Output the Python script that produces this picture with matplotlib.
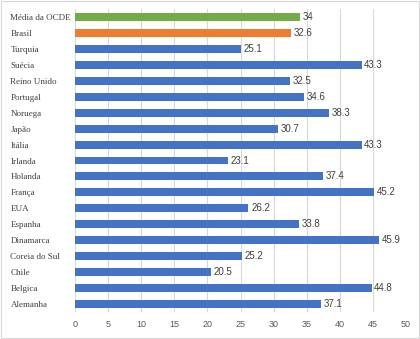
import matplotlib
matplotlib.use("Agg")
import matplotlib.pyplot as plt
from matplotlib.patches import Rectangle

categories = ["Alemanha", "Belgica", "Chile", "Coreia do Sul", "Dinamarca", "Espanha",
              "EUA", "França", "Holanda", "Irlanda", "Itália", "Japão", "Noruega",
              "Portugal", "Reino Unido", "Suécia", "Turquia", "Brasil", "Média da OCDE"]
values = [37.1, 44.8, 20.5, 25.2, 45.9, 33.8, 26.2, 45.2, 37.4, 23.1, 43.3, 30.7, 38.3,
          34.6, 32.5, 43.3, 25.1, 32.6, 34]
value_labels = ["37.1", "44.8", "20.5", "25.2", "45.9", "33.8", "26.2", "45.2", "37.4",
                "23.1", "43.3", "30.7", "38.3", "34.6", "32.5", "43.3", "25.1", "32.6", "34"]
colors = ["#4472C4"] * 17 + ["#ED7D31", "#70AD47"]
xticks = [0, 5, 10, 15, 20, 25, 30, 35, 40, 45, 50]

fig = plt.figure(figsize=(4.2, 3.39), dpi=100)
ax = fig.add_axes([75/420, 1-312/339, (406-75)/420, (312-9)/339])
ypos = list(range(len(categories)))
ax.barh(ypos, values, height=0.5, color=colors, zorder=3)
for y, v, lab in zip(ypos, values, value_labels):
    ax.text(v + 0.4, y, lab, va="center", ha="left", fontsize=7,
            family="Liberation Sans", color="#404040", zorder=4)
ax.set_xlim(0, 50)
ax.set_ylim(-0.5, len(categories) - 0.5)
ax.set_xticks(xticks)
ax.set_xticklabels([str(t) for t in xticks], fontsize=6.5, family="Liberation Sans", color="#595959")
ax.set_yticks(ypos)
ax.set_yticklabels(categories, fontsize=6.5, family="Liberation Serif", color="#404040")
for lab in ax.get_yticklabels():
    lab.set_horizontalalignment("left")
ax.tick_params(axis="y", length=0, pad=46.5)
ax.tick_params(axis="x", length=0, pad=6)
ax.grid(axis="x", color="#D9D9D9", linewidth=0.8, zorder=0)
for s in ax.spines.values():
    s.set_visible(False)
fig.patches.append(Rectangle((0.002, 0.003), 0.995, 0.993, transform=fig.transFigure,
                             fill=False, edgecolor="#D9D9D9", linewidth=0.8))
fig.savefig("out.png", dpi=100)
